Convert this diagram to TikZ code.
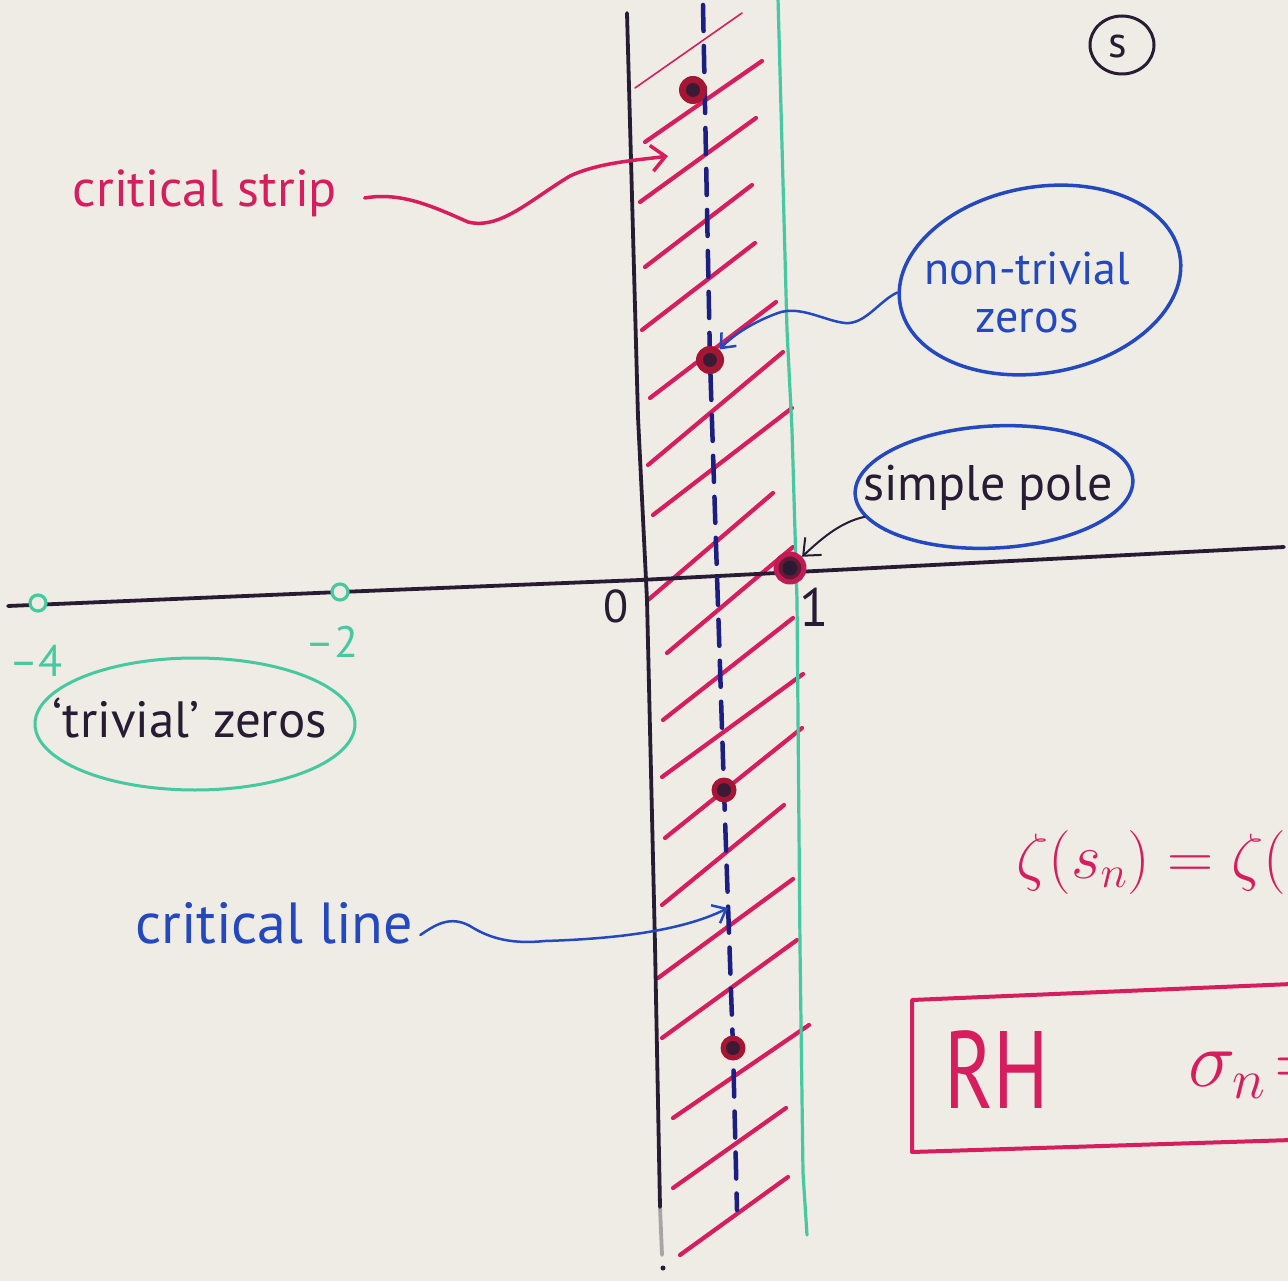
\RequirePackage{fix-cm}
\documentclass[tikz,border=0pt]{standalone}
\usepackage{fontspec}
\setmainfont{PT Sans}
\usetikzlibrary{arrows.meta,shapes.geometric}
\definecolor{paper}{RGB}{238,236,228}
\definecolor{inkred}{RGB}{214,30,94}
\definecolor{inkblue}{RGB}{36,72,190}
\definecolor{inknavy}{RGB}{28,30,130}
\definecolor{inkgreen}{RGB}{70,200,160}
\definecolor{inkblack}{RGB}{40,28,52}
\definecolor{zerored}{RGB}{165,22,52}
\newcommand{\penfs}[1]{\fontsize{#1}{#1}\selectfont}
\tikzset{
  axisline/.style={inkblack, line width=3.8pt},
  hatchline/.style={inkred, line width=4.2pt},
  critline/.style={inknavy, line width=4.5pt, dash pattern=on 26pt off 15pt},
  edgeline/.style={inkgreen, line width=3.2pt},
  zero/.style={circle, fill=zerored, inner sep=0pt, minimum size=28pt},
  trivzero/.style={circle, draw=inkgreen, line width=3.2pt, fill=paper, inner sep=0pt, minimum size=16pt},
  polemark/.style={circle, draw=inkred!90!black, line width=5pt, fill=zerored!50!inkblack, inner sep=0pt, minimum size=28pt},
  bubble/.style={ellipse, line width=3.5pt, inner sep=0pt},
  redarrow/.style={inkred, line width=3.5pt, -{Straight Barb[length=14pt,width=26pt]}},
  bluearrow/.style={inkblue, line width=2.5pt, -{Straight Barb[length=12pt,width=20pt]}},
  blackarrow/.style={inkblack, line width=2pt, -{Straight Barb[length=14pt,width=24pt]}},
}
\begin{document}
\begin{tikzpicture}[x=1pt,y=-1pt,line cap=round,line join=round]
\fill[paper] (0,0) rectangle (1288,1281);
\useasboundingbox (0,0) rectangle (1288,1281);
\begin{scope}
\clip (0,0) rectangle (1288,1281);

% hatching of the critical strip
\draw[inkred, line width=1.6pt] (635,88) -- (742,13);
\foreach \a/\b/\c/\d in {645/142/762/61, 640/202/756/118, 645/267/752/185,
    642/330/755/243, 650/398/776/302, 648/465/783/352, 653/515/792/408,
    648/600/773/493, 667/653/793/547, 663/720/793/618, 662/777/803/674,
    665/838/802/728, 662/905/784/805, 658/978/793/879, 662/1038/797/940,
    673/1118/809/1025, 673/1188/786/1108, 680/1255/788/1177}
  \draw[hatchline] (\a,\b) -- (\c,\d);

% the line Re(s) = 1
\draw[edgeline] (778,-2) -- (787,330) -- (792,430) -- (797,600) -- (800,947) -- (803,1173) -- (807,1235);

% imaginary axis
\draw[axisline] (627,13) -- (638,417) -- (647,600) -- (655,945) -- (660,1207);
\draw[axisline, opacity=0.35] (660,1207) -- (662,1255);
\fill[inkblack] (663,1268) circle (2.5);

% real axis
\draw[axisline] (8,606) -- (340,592) -- (640,580) -- (1284,547);

% critical line Re(s) = 1/2
\draw[critline] (703,5) -- (710,360) -- (724,790) -- (733,1048) -- (737,1210);

% zeros and the pole
\node[trivzero] (tz4) at (38,603) {};
\node[trivzero] (tz2) at (340,592) {};
\node[zero] (z1) at (693,90) {};
\node[zero] (z2) at (710,360) {};
\node[zero, minimum size=25pt] (z3) at (724,790) {};
\node[zero, minimum size=25pt] (z4) at (733,1048) {};
\foreach \z in {z1,z2,z3,z4} \fill[inkblack!85!zerored] (\z) circle (7);
\node[polemark] (pole) at (790,568) {};
\fill[inkblack] (pole) circle (7.5);

% axis labels
\node[text=inkblack, font=\penfs{46}] (orig) at (616,606) {0};
\node[text=inkblack, font=\penfs{54}] (one) at (814,607) {1};
\node[text=inkgreen, font=\penfs{44}] (m4) at (36,661) {–4};
\node[text=inkgreen, font=\penfs{44}] (m2) at (332,642) {–2};

% critical strip
\node[text=inkred, font=\penfs{52}] (cs) at (205,193) {critical strip};
\coordinate (stripmark) at (668,156);
\draw[redarrow] ([xshift=24pt,yshift=-5pt]cs.east) .. controls (400,192) and (430,205) .. (468,222)
  .. controls (500,230) and (530,200) .. (570,176) .. controls (600,162) and (640,160) .. (stripmark);

% non-trivial zeros
\node[bubble, draw=inkblue, rotate=10, minimum width=284pt, minimum height=186pt] (nt) at (1040,280) {};
\node[text=inkblue, font=\fontsize{46}{48}\selectfont, align=center] (ntt) at (1027,292) {non-trivial\\zeros};
\draw[bluearrow] (nt.175) .. controls (880,300) and (865,325) .. (845,323)
  .. controls (825,321) and (800,305) .. (778,313) .. controls (750,323) and (730,338) .. (z2);

% simple pole
\node[bubble, draw=inkblue, rotate=3, minimum width=278pt, minimum height=122pt] (sp) at (994,487) {};
\node[text=inkblack, font=\penfs{50}] (spt) at (988,488) {simple pole};
\draw[blackarrow] (sp.190) .. controls (840,522) and (820,540) .. (pole);

% trivial zeros
\node[bubble, draw=inkgreen, line width=3pt, minimum width=320pt, minimum height=132pt] (tzb) at (195,724) {};
\node[text=inkblack, font=\penfs{51}] (tzt) at (190,718) {`trivial' zeros};

% critical line
\node[text=inkblue, font=\penfs{58}] (cl) at (274,923) {critical line};
\coordinate (clpt) at (728,908);
\draw[bluearrow] ([xshift=4pt,yshift=-12pt]cl.east) .. controls (435,925) and (450,915) .. (470,926)
  .. controls (492,940) and (515,944) .. (545,941) .. controls (610,939) and (680,932) .. (clpt);

% page mark
\node[draw=inkblack, ellipse, line width=3pt, minimum width=64pt, minimum height=58pt, inner sep=0pt] (pg) at (1122,45) {};
\node[text=inkblack, font=\penfs{44}] (pgs) at (1118,47) {s};

% functional equation and RH box
\node[anchor=west, text=inkred, font=\penfs{64}, inner sep=0pt] (zeq) at (1016,862) {$\zeta(s_n)=\zeta($};
\draw[inkred, line width=4pt] (1292,984) -- (912,1000) -- (912,1152) -- (1292,1140);
\node[text=inkred, font=\penfs{110}, inner sep=0pt] (rh) at (997,1070) {\scalebox{0.75}[1]{RH}};
\node[anchor=west, text=inkred, font=\penfs{80}, inner sep=0pt] (sig) at (1188,1075) {$\sigma_n\mkern2mu{=}$};
\end{scope}
\end{tikzpicture}
\end{document}
